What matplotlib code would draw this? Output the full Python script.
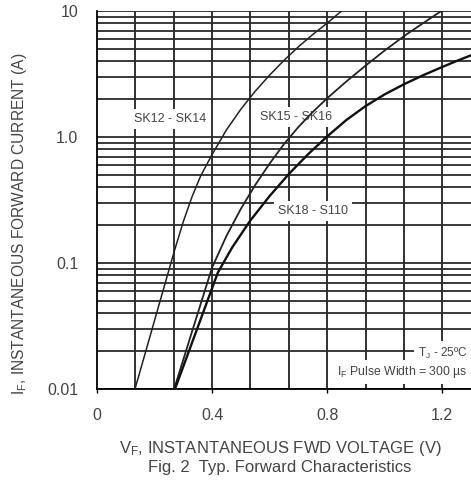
import numpy as np
import matplotlib
matplotlib.use('Agg')
import matplotlib.pyplot as plt

plt.rcParams['font.family'] = ['Liberation Sans', 'DejaVu Sans']
plt.rcParams['mathtext.default'] = 'regular'

# forward characteristics (V, A)
vf_sk12 = [0.132, 0.17, 0.21, 0.24, 0.27, 0.30, 0.33, 0.36, 0.40, 0.45, 0.50, 0.55, 0.60, 0.65, 0.70, 0.75, 0.80, 0.85]
if_sk12 = [0.01, 0.0201, 0.0421, 0.0731, 0.127, 0.213, 0.334, 0.489, 0.726, 1.14, 1.66, 2.31, 3.10, 4.06, 5.20, 6.51, 8.01, 10.0]

vf_sk15 = [0.268, 0.30, 0.33, 0.36, 0.40, 0.45, 0.50, 0.55, 0.60, 0.65, 0.70, 0.75, 0.80, 0.866, 0.932, 1.0, 1.071, 1.135, 1.197]
if_sk15 = [0.01, 0.0171, 0.0284, 0.0470, 0.092, 0.164, 0.269, 0.416, 0.615, 0.879, 1.20, 1.58, 2.03, 2.75, 3.66, 4.86, 6.41, 8.05, 10.0]

vf_sk18 = [0.271, 0.30, 0.33, 0.36, 0.39, 0.42, 0.47, 0.532, 0.60, 0.668, 0.735, 0.80, 0.866, 0.932, 1.0, 1.071, 1.135, 1.197, 1.25, 1.301]
if_sk18 = [0.01, 0.0151, 0.0232, 0.0356, 0.0547, 0.0839, 0.133, 0.216, 0.340, 0.512, 0.735, 1.01, 1.36, 1.75, 2.18, 2.65, 3.10, 3.57, 4.01, 4.46]

x_ticks = [0, 0.4, 0.8, 1.2]
x_tick_labels = ['0', '0.4', '0.8', '1.2']
y_ticks = [0.01, 0.1, 1.0, 10]
y_tick_labels = ['0.01', '0.1', '1.0', '10']

txt = '#444444'

fig = plt.figure(figsize=(4.71, 4.86), dpi=100)
ax = fig.add_axes([97 / 471, 97 / 486, 374 / 471, 378 / 486])

# grid: vertical every 0.4/3 V, horizontal on every log decade step
for k in range(1, 10):
    ax.axvline(k * 0.4 / 3, color='#111111', lw=1.2, zorder=1)
for dec in [0.01, 0.1, 1.0]:
    for m in range(1, 10):
        ax.axhline(dec * m, color='#2a2a2a', lw=1.3, zorder=1)
ax.axhline(10, color='#2a2a2a', lw=1.3, zorder=1)

ax.plot(vf_sk12, if_sk12, color='#222222', lw=1.1, zorder=3)
ax.plot(vf_sk15, if_sk15, color='#222222', lw=1.3, zorder=3)
ax.plot(vf_sk18, if_sk18, color='#111111', lw=1.7, zorder=3)

ax.set_yscale('log')
ax.set_xlim(0, 1.30)
ax.set_ylim(0.01, 10)

ax.set_xticks(x_ticks)
ax.set_xticklabels(x_tick_labels)
ax.set_yticks(y_ticks)
ax.set_yticklabels(y_tick_labels)
ax.yaxis.set_minor_locator(matplotlib.ticker.NullLocator())
ax.tick_params(axis='x', length=3, width=1.0, direction='out', pad=11, labelsize=11.5, labelcolor=txt)
ax.tick_params(axis='y', length=0, pad=13.5, labelsize=11.5, labelcolor=txt)

for s in ['top', 'right']:
    ax.spines[s].set_visible(False)
ax.spines['left'].set_linewidth(1.3)
ax.spines['bottom'].set_linewidth(1.3)

box = dict(facecolor='white', edgecolor='none', pad=3)
ax.text(0.254, 1.39, 'SK12 - SK14', fontsize=9, color=txt, ha='center', va='center', bbox=box, zorder=2)
ax.text(0.692, 1.44, 'SK15 - SK16', fontsize=9, color=txt, ha='center', va='center', bbox=box, zorder=2)
ax.text(0.751, 0.259, 'SK18 - S110', fontsize=9, color=txt, ha='center', va='center', bbox=box, zorder=2)
ax.text(1.287, 0.0193, 'T$_J$ - 25ºC', fontsize=8.5, color=txt, ha='right', va='center', bbox=box, zorder=2)
ax.text(1.287, 0.01365, 'I$_F$ Pulse Width = 300 µs', fontsize=8.8, color=txt, ha='right', va='center',
        bbox=box, zorder=2)

fig.text(20 / 471, 1 - 224 / 486, 'I$_F$, INSTANTANEOUS FORWARD CURRENT (A)', rotation=90,
         fontsize=11.2, color=txt, ha='center', va='center')
fig.text(280 / 471, 1 - 448 / 486, 'V$_F$, INSTANTANEOUS FWD VOLTAGE (V)', fontsize=12, color=txt,
         ha='center', va='center')
fig.text(280 / 471, 1 - 467 / 486, 'Fig. 2  Typ. Forward Characteristics', fontsize=12, color=txt,
         ha='center', va='center')

fig.savefig('out.png', dpi=100)
